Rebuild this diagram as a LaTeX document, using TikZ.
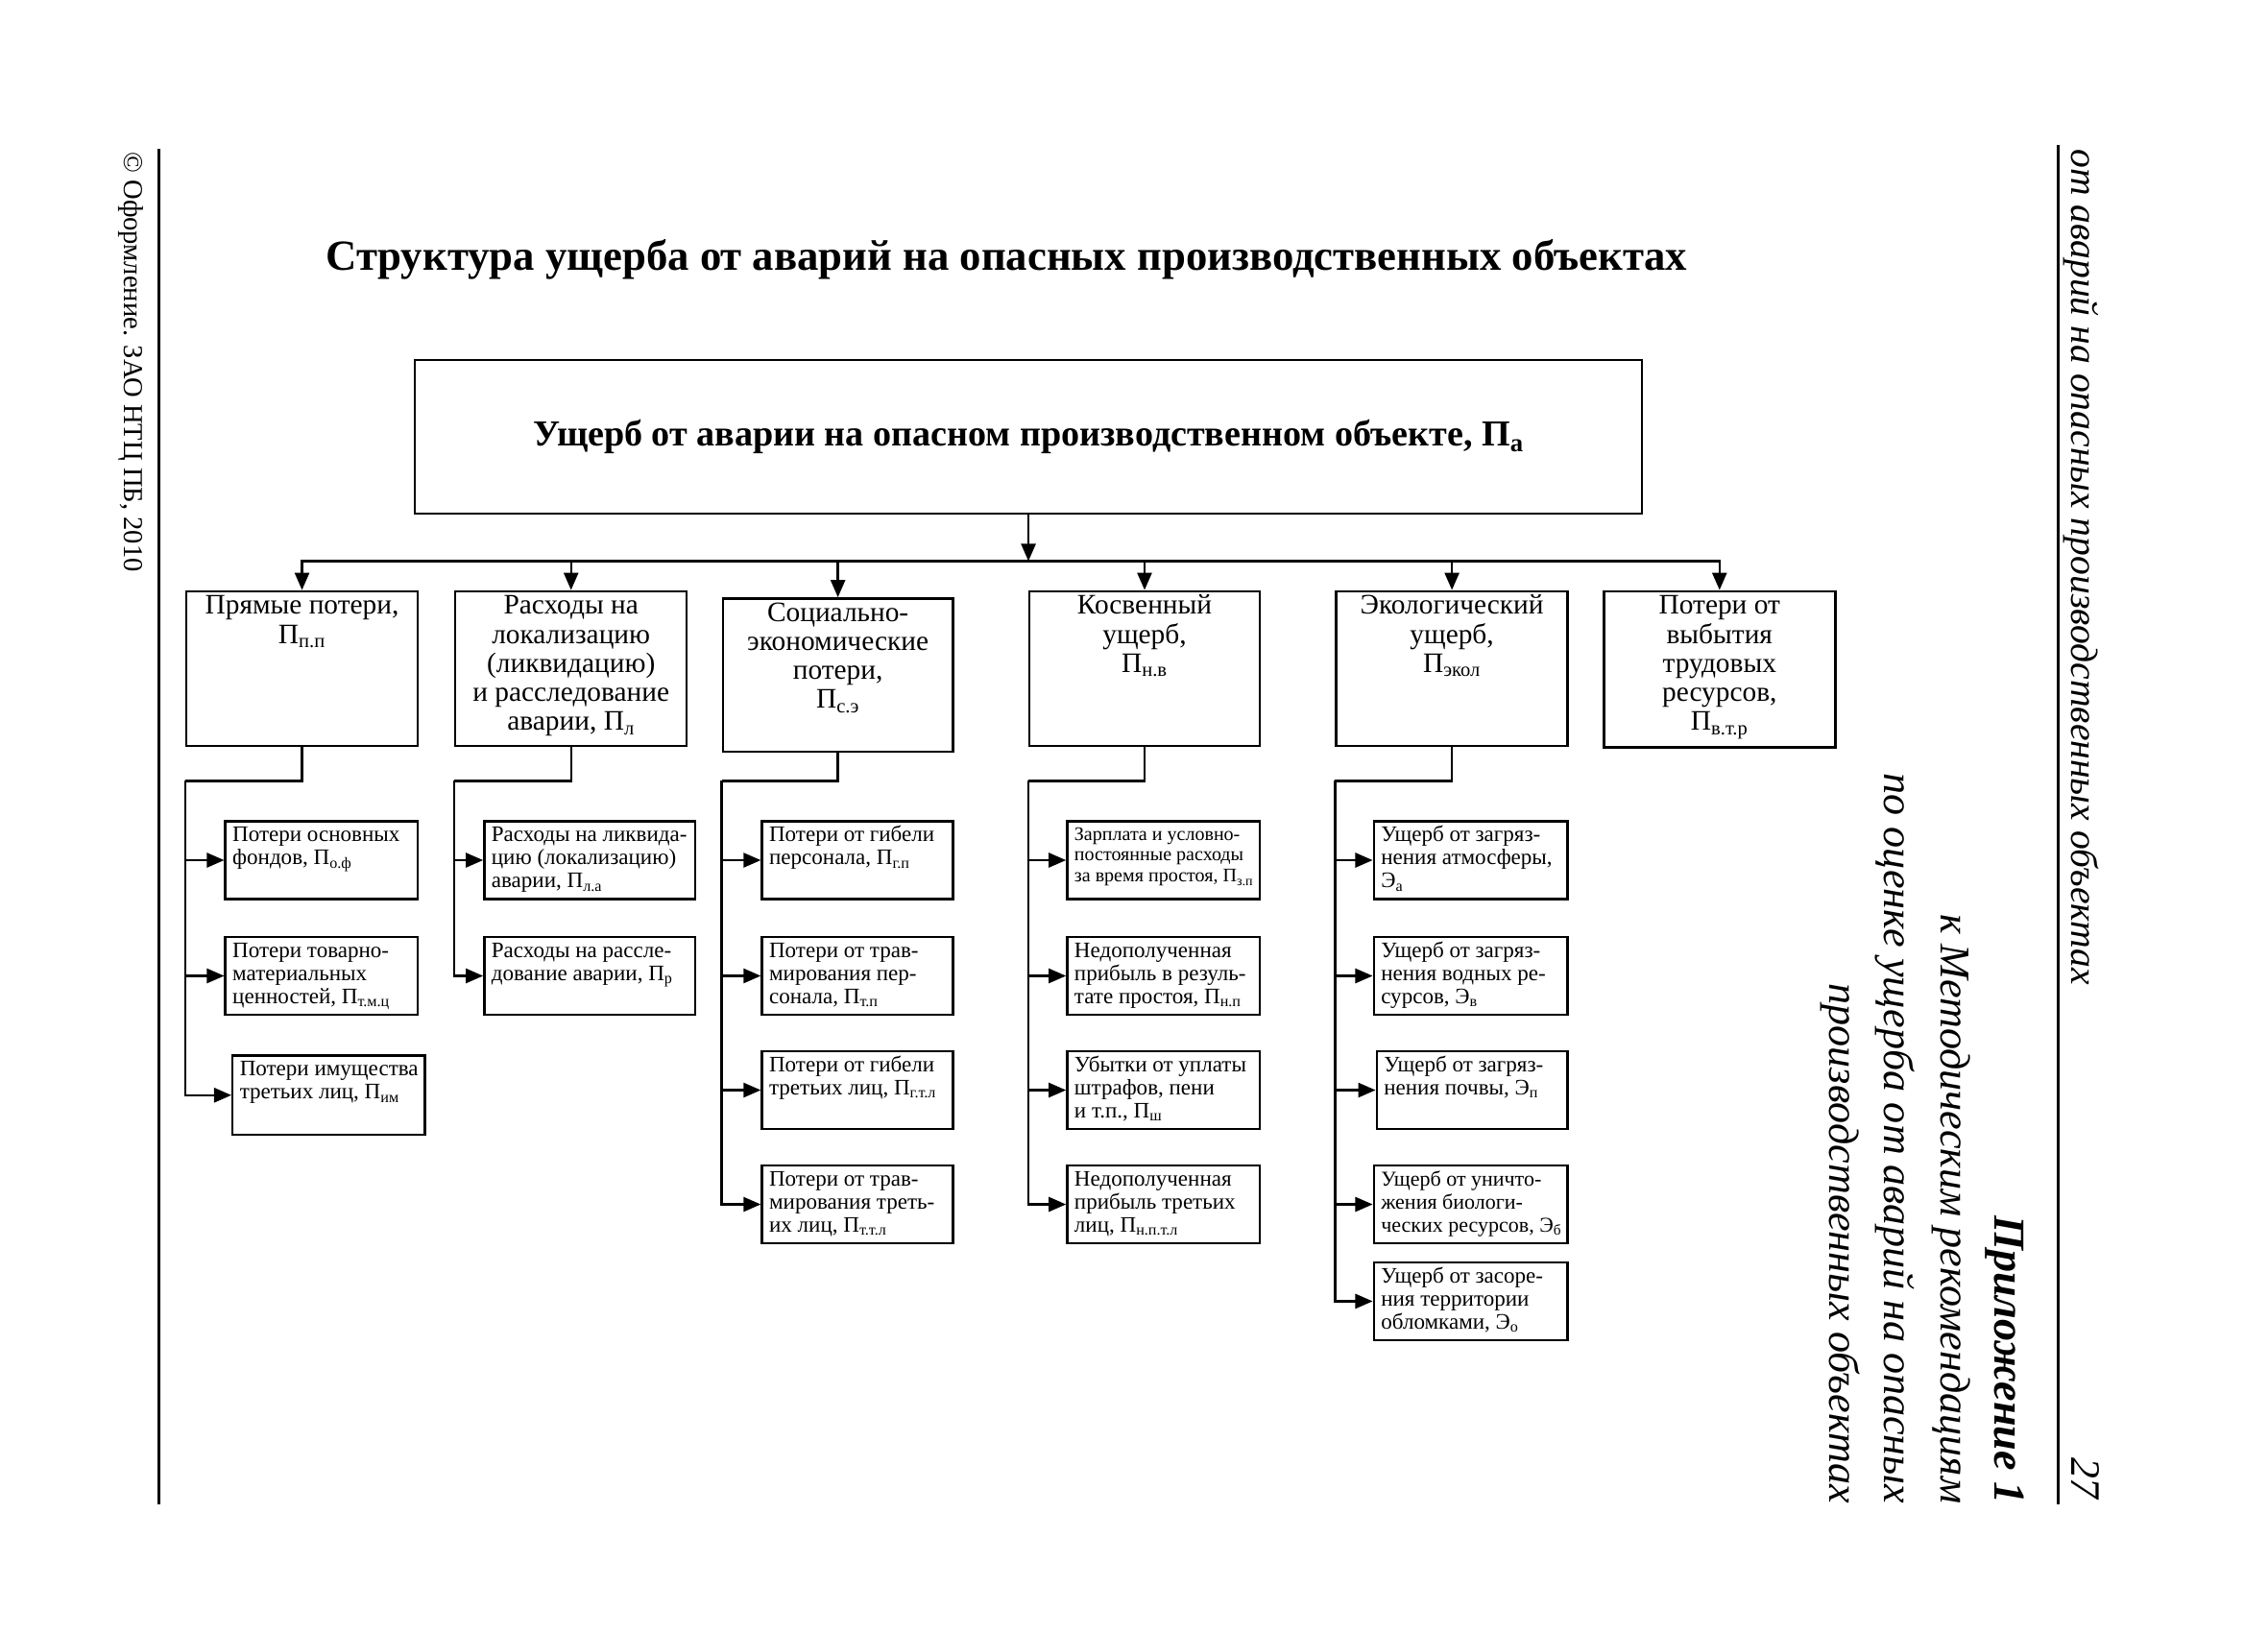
\documentclass[tikz,border=0pt]{standalone}
\usepackage{fontspec}
\setmainfont{Liberation Serif}
\usetikzlibrary{arrows.meta,positioning}

\newcommand{\toptxt}[3]{\parbox[t][#1][t]{#2}{\centering\vspace*{2pt}\begin{tabular}[t]{@{}c@{}}#3\end{tabular}}}
\newcommand{\subtxt}[3]{\parbox[t][#1][t]{#2}{\vspace*{3pt}\hspace*{5pt}\begin{tabular}[t]{@{}l@{}}#3\end{tabular}}}

\begin{document}
\begin{tikzpicture}[
    x=1pt, y=-1pt,
    title/.style={
        anchor=base,
        font=\bfseries\fontsize{29.7}{32}\selectfont
    },
    mainbox/.style={
        draw,
        line width=1.5pt,
        minimum width=848pt,
        minimum height=106pt,
        font=\bfseries\fontsize{25.3}{28}\selectfont
    },
    topbox/.style={
        draw,
        line width=1.6pt,
        anchor=north west,
        inner sep=0pt,
        font=\fontsize{19.5}{20}\selectfont
    },
    subbox/.style={
        draw,
        line width=1.6pt,
        anchor=north west,
        inner sep=0pt,
        font=\fontsize{15.3}{16}\selectfont
    },
    link/.style={
        line width=1.6pt
    },
    arr/.style={
        line width=1.6pt,
        -{Triangle[length=12pt,width=10pt]}
    },
    rule/.style={
        line width=1.6pt
    },
    side/.style={
        rotate=-90,
        inner sep=0pt,
        font=\itshape\fontsize{29.3}{32}\selectfont
    }
]

\fill[white] (0,0) rectangle (1568,1129);
\useasboundingbox (0,0) rectangle (1568,1129);

% Page
\draw[rule] (110,103) -- (110,1040);
\draw[rule] (1423,100) -- (1423,1040);
\node[side, anchor=base west, font=\fontsize{19}{22}\selectfont] (copy) at (86,105) {© Оформление. ЗАО НТЦ ПБ, 2010};
\node[side, anchor=base west, font=\itshape\fontsize{26.3}{30}\selectfont] (head) at (1432,103) {от аварий на опасных производственных объектах};
\node[side, anchor=base east, font=\itshape\fontsize{29}{32}\selectfont] (pnum) at (1432,1037) {27};
\node[side, anchor=base east, font=\bfseries\itshape\fontsize{30.6}{34}\selectfont] (app) at (1379,1040) {Приложение 1};
\node[side, anchor=base east] (app1) at (1342,1040) {к Методическим рекомендациям};
\node[side, anchor=base east] (app2) at (1303,1040) {по оценке ущерба от аварий на опасных};
\node[side, anchor=base east] (app3) at (1265,1040) {производственных объектах};

% Nodes
\node[title] (title) at (696,187) {Структура ущерба от аварий на опасных производственных объектах};
\node[mainbox] (main) at (711,302) {Ущерб от аварии на опасном производственном объекте, П\textsubscript{а}};

\node[topbox] (b1) at (128,408) {\toptxt{107pt}{160pt}{Прямые потери,\\ П\textsubscript{п.п}}};
\node[topbox] (b2) at (314,408) {\toptxt{107pt}{160pt}{Расходы на\\ локализацию\\ (ликвидацию)\\ и расследование\\ аварии, П\textsubscript{л}}};
\node[topbox] (b3) at (499,413) {\toptxt{106pt}{159pt}{Социально-\\ экономические\\ потери,\\ П\textsubscript{с.э}}};
\node[topbox] (b4) at (711,408) {\toptxt{107pt}{159pt}{Косвенный\\ ущерб,\\ П\textsubscript{н.в}}};
\node[topbox] (b5) at (923,408) {\toptxt{107pt}{160pt}{Экологический\\ ущерб,\\ П\textsubscript{экол}}};
\node[topbox] (b6) at (1108,408) {\toptxt{108pt}{160pt}{Потери от\\ выбытия\\ трудовых\\ ресурсов,\\ П\textsubscript{в.т.р}}};

\node[subbox] (s11) at (155,567) {\subtxt{54pt}{133pt}{Потери основных\\ фондов, П\textsubscript{о.ф}}};
\node[subbox] (s12) at (155,647) {\subtxt{54pt}{133pt}{Потери товарно-\\ материальных\\ ценностей, П\textsubscript{т.м.ц}}};
\node[subbox] (s13) at (160,729) {\subtxt{55pt}{133pt}{Потери имущества\\ третьих лиц, П\textsubscript{им}}};

\node[subbox] (s21) at (334,567) {\subtxt{54pt}{146pt}{Расходы на ликвида-\\ цию (локализацию)\\ аварии, П\textsubscript{л.а}}};
\node[subbox] (s22) at (334,647) {\subtxt{54pt}{146pt}{Расходы на рассле-\\ дование аварии, П\textsubscript{р}}};

\node[subbox] (s31) at (526,567) {\subtxt{54pt}{132pt}{Потери от гибели\\ персонала, П\textsubscript{г.п}}};
\node[subbox] (s32) at (526,647) {\subtxt{54pt}{132pt}{Потери от трав-\\ мирования пер-\\ сонала, П\textsubscript{т.п}}};
\node[subbox] (s33) at (526,726) {\subtxt{54pt}{132pt}{Потери от гибели\\ третьих лиц, П\textsubscript{г.т.л}}};
\node[subbox] (s34) at (526,805) {\subtxt{54pt}{132pt}{Потери от трав-\\ мирования треть-\\ их лиц, П\textsubscript{т.т.л}}};

\node[subbox, font=\fontsize{13.3}{14.5}\selectfont] (s41) at (737,567) {\subtxt{54pt}{133pt}{Зарплата и условно-\\ постоянные расходы\\ за время простоя, П\textsubscript{з.п}}};
\node[subbox] (s42) at (737,647) {\subtxt{54pt}{133pt}{Недополученная\\ прибыль в резуль-\\ тате простоя, П\textsubscript{н.п}}};
\node[subbox] (s43) at (737,726) {\subtxt{54pt}{133pt}{Убытки от уплаты\\ штрафов, пени\\ и т.п., П\textsubscript{ш}}};
\node[subbox] (s44) at (737,805) {\subtxt{54pt}{133pt}{Недополученная\\ прибыль третьих\\ лиц, П\textsubscript{н.п.т.л}}};

\node[subbox] (s51) at (949,567) {\subtxt{54pt}{134pt}{Ущерб от загряз-\\ нения атмосферы,\\ Э\textsubscript{а}}};
\node[subbox] (s52) at (949,647) {\subtxt{54pt}{134pt}{Ущерб от загряз-\\ нения водных ре-\\ сурсов, Э\textsubscript{в}}};
\node[subbox] (s53) at (951,726) {\subtxt{54pt}{132pt}{Ущерб от загряз-\\ нения почвы, Э\textsubscript{п}}};
\node[subbox, font=\fontsize{14.6}{16}\selectfont] (s54) at (949,805) {\subtxt{54pt}{134pt}{Ущерб от уничто-\\ жения биологи-\\ ческих ресурсов, Э\textsubscript{б}}};
\node[subbox] (s55) at (949,872) {\subtxt{54pt}{134pt}{Ущерб от засоре-\\ ния территории\\ обломками, Э\textsubscript{о}}};

% Branch points
\coordinate (bus) at (711,388);
\coordinate (t1) at (128,540);
\coordinate (t2) at (314,540);
\coordinate (t3) at (499,540);
\coordinate (t4) at (711,540);
\coordinate (t5) at (923,540);

% Links
\draw[arr] (main) -- (bus);
\foreach \b in {b1,b2,b3,b4,b5,b6}
    \draw[arr] (bus) -| (\b);

\foreach \b/\t in {b1/t1,b2/t2,b3/t3,b4/t4,b5/t5}
    \draw[link] (\b) |- (\t);

\foreach \s in {s11,s12,s13}
    \draw[arr] (t1) |- (\s);
\foreach \s in {s21,s22}
    \draw[arr] (t2) |- (\s);
\foreach \s in {s31,s32,s33,s34}
    \draw[arr] (t3) |- (\s);
\foreach \s in {s41,s42,s43,s44}
    \draw[arr] (t4) |- (\s);
\foreach \s in {s51,s52,s53,s54,s55}
    \draw[arr] (t5) |- (\s);

\end{tikzpicture}
\end{document}
